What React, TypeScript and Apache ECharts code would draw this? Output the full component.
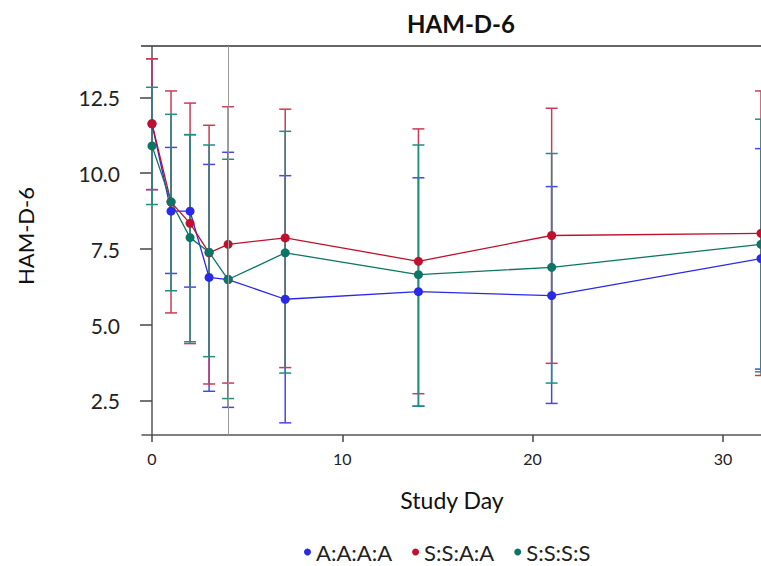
import React, { useEffect, useRef } from "react";
import * as echarts from "echarts";

const days = [0, 1, 2, 3, 4, 7, 14, 21, 32];
const seriesNames = ["A:A:A:A", "S:S:A:A", "S:S:S:S"];

const blueMean = [11.63, 8.75, 8.75, 6.57, 6.5, 5.85, 6.1, 5.97, 7.19];
const blueLow = [9.46, 6.7, 6.25, 2.82, 2.29, 1.78, 2.33, 2.42, 3.55];
const blueHigh = [13.77, 10.85, 11.27, 10.29, 10.69, 9.92, 9.85, 9.56, 10.81];

const redMean = [11.63, 9.05, 8.35, 7.38, 7.66, 7.87, 7.1, 7.95, 8.02];
const redLow = [9.46, 5.4, 4.39, 3.06, 3.09, 3.6, 2.74, 3.74, 3.34];
const redHigh = [13.77, 12.71, 12.31, 11.58, 12.19, 12.11, 11.46, 12.14, 12.71];

const greenMean = [10.9, 9.06, 7.88, 7.4, 6.5, 7.38, 6.66, 6.9, 7.66];
const greenLow = [8.97, 6.13, 4.45, 3.96, 2.58, 3.42, 2.33, 3.09, 3.46];
const greenHigh = [12.83, 11.94, 11.27, 10.93, 10.46, 11.38, 10.93, 10.65, 11.78];

const xTicks = [0, 10, 20, 30];
const yTicks = [2.5, 5.0, 7.5, 10.0, 12.5];
const referenceDay = 4;

const colors = ["#2a2ae6", "#c0102c", "#0d7566"];
const barColors = ["#4646ee", "#cc3a56", "#1f8f84"];
const FONT = "Lato, 'Open Sans', sans-serif";

function errSeries(idx: number, low: number[], high: number[]) {
  return {
    type: "custom",
    name: seriesNames[idx] + " err",
    data: days.map((d, i) => [d, low[i], high[i]]),
    clip: false,
    renderItem: (params: any, api: any) => {
      const x = api.value(0);
      const lo = api.coord([x, api.value(1)]);
      const hi = api.coord([x, api.value(2)]);
      const hw = 6;
      const style = { stroke: barColors[idx], lineWidth: 1.5 };
      return {
        type: "group",
        children: [
          { type: "line", shape: { x1: lo[0], y1: lo[1], x2: hi[0], y2: hi[1] }, style },
          { type: "line", shape: { x1: lo[0] - hw, y1: lo[1], x2: lo[0] + hw, y2: lo[1] }, style },
          { type: "line", shape: { x1: hi[0] - hw, y1: hi[1], x2: hi[0] + hw, y2: hi[1] }, style },
        ],
      };
    },
    silent: true,
    z: 2,
  };
}

function lineSeries(idx: number, mean: number[], extra: any = {}) {
  return {
    type: "line",
    name: seriesNames[idx],
    data: days.map((d, i) => [d, mean[i]]),
    symbol: "circle",
    symbolSize: 9,
    clip: false,
    itemStyle: { color: colors[idx] },
    lineStyle: { color: colors[idx], width: 1.3 },
    z: 3,
    ...extra,
  };
}

export default function App() {
  const ref = useRef<HTMLDivElement>(null);
  useEffect(() => {
    if (!ref.current) return;
    const chart = echarts.init(ref.current, undefined, { renderer: "svg" });
    chart.setOption({
      animation: false,
      backgroundColor: "#ffffff",
      title: {
        text: "HAM-D-6",
        left: 456,
        top: 6,
        textAlign: "center",
        textStyle: { fontFamily: FONT, fontSize: 24, fontWeight: "bold", color: "#111" },
      },
      legend: {
        data: seriesNames.map((n, i) => ({ name: n, itemStyle: { color: colors[i] } })),
        left: 304,
        top: 540,
        padding: 0,
        icon: "circle",
        itemWidth: 7,
        itemHeight: 7,
        itemGap: 20,
        textStyle: { fontFamily: FONT, fontSize: 22, lineHeight: 24, color: "#222" },
      },
      grid: {
        left: 142,
        top: 46,
        right: 0,
        bottom: 131,
        show: false,
      },
      xAxis: {
        type: "value",
        min: -0.525,
        max: 32.0,
        axisLine: { show: true, lineStyle: { color: "#555", width: 1.5 } },
        axisTick: { show: true, customValues: xTicks, length: 7, lineStyle: { color: "#444", width: 1.5 } },
        axisLabel: {
          customValues: xTicks,
          margin: 15,
          fontFamily: FONT,
          fontSize: 16,
          color: "#222",
        },
        splitLine: { show: false },
      },
      yAxis: {
        type: "value",
        min: 1.38,
        max: 14.19,
        axisLine: { show: true, lineStyle: { color: "#555", width: 1.5 } },
        axisTick: { show: true, customValues: yTicks, length: 12, lineStyle: { color: "#444", width: 1.5 } },
        axisLabel: {
          customValues: yTicks,
          margin: 22,
          fontFamily: FONT,
          fontSize: 21,
          color: "#222",
          formatter: (v: number) => v.toFixed(1),
        },
        splitLine: { show: false },
      },
      graphic: [
        {
          type: "line",
          shape: { x1: 141, y1: 46, x2: 761, y2: 46 },
          style: { stroke: "#666", lineWidth: 2 },
          silent: true,
        },
        {
          type: "text",
          x: 25,
          y: 236,
          rotation: Math.PI / 2,
          style: {
            text: "HAM-D-6",
            fontFamily: FONT,
            fontSize: 22,
            fill: "#111",
            textAlign: "center",
            textVerticalAlign: "middle",
          },
        },
        {
          type: "text",
          x: 452,
          y: 500,
          style: {
            text: "Study Day",
            fontFamily: FONT,
            fontSize: 23,
            fill: "#111",
            textAlign: "center",
            textVerticalAlign: "middle",
          },
        },
      ],
      series: [
        errSeries(0, blueLow, blueHigh),
        errSeries(1, redLow, redHigh),
        errSeries(2, greenLow, greenHigh),
        lineSeries(0, blueMean, {
          markLine: {
            silent: true,
            symbol: ["none", "none"],
            label: { show: false },
            lineStyle: { color: "#999", width: 1, type: "solid" },
            data: [{ xAxis: referenceDay }],
          },
        }),
        lineSeries(1, redMean),
        lineSeries(2, greenMean),
      ],
    });
    return () => chart.dispose();
  }, []);
  return (
    <div
      ref={ref}
      style={{ position: "fixed", left: 0, top: 0, width: 761, height: 566 }}
    />
  );
}
